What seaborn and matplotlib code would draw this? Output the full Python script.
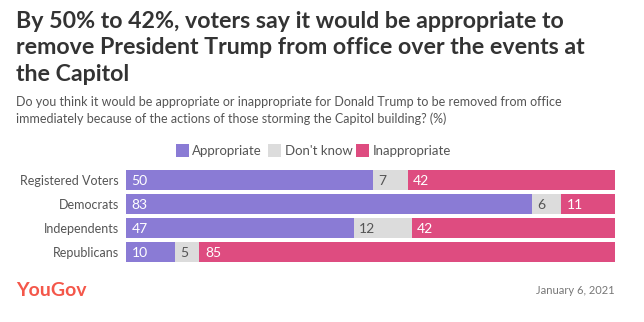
import matplotlib
matplotlib.use("Agg")
import matplotlib.pyplot as plt
import seaborn as sns
import pandas as pd
import numpy as np
from matplotlib.patches import Rectangle

sns.set_theme(style="white")
plt.rcParams['font.family'] = ['Lato', 'DejaVu Sans']

groups = ["Registered Voters", "Democrats", "Independents", "Republicans"]
appropriate = [50, 83, 47, 10]
dont_know = [7, 6, 12, 5]
inappropriate = [42, 11, 42, 85]
series_names = ["Appropriate", "Don't know", "Inappropriate"]
colors = ["#8a7bd5", "#dcdcdc", "#de4c80"]
label_colors = ["white", "#555555", "white"]

title = "By 50% to 42%, voters say it would be appropriate to\nremove President Trump from office over the events at\nthe Capitol"
subtitle = ("Do you think it would be appropriate or inappropriate for Donald Trump to be removed from office\n"
            "immediately because of the actions of those storming the Capitol building? (%)")
date_text = "January 6, 2021"

W, H = 644, 322
fig = plt.figure(figsize=(W / 100, H / 100), dpi=100)
fig.patch.set_facecolor("white")

ax = fig.add_axes([126 / W, 1 - 264 / H, (615 - 126) / W, 96 / H])

vals = np.array([appropriate, dont_know, inappropriate], dtype=float)
tot = vals.sum(axis=0)
norm = vals / tot * 100
cum = np.cumsum(norm, axis=0)

df = pd.DataFrame({"group": groups})
for i in range(2, -1, -1):
    df["v"] = cum[i]
    sns.barplot(data=df, y="group", x="v", orient="h", color=colors[i],
                saturation=1, width=20 / 24, ax=ax, edgecolor="none", linewidth=0)

for i in range(3):
    for j in range(len(groups)):
        left = cum[i][j] - norm[i][j]
        ax.annotate(str(int(vals[i][j])), xy=(left, j), xytext=(4, -0.5),
                    textcoords="offset points", ha="left", va="center",
                    fontsize=10, color=label_colors[i])

ax.set_xlim(0, 100)
ax.set_ylim(3.5, -0.5)
ax.set_xlabel("")
ax.set_ylabel("")
ax.set_xticks([])
ax.tick_params(axis="y", length=0, pad=5, labelsize=9, labelcolor="#555555")
for s in ax.spines.values():
    s.set_visible(False)

# Title and subtitle
fig.text(16 / W, 1 - 11 / H, title, ha="left", va="top", fontsize=16.7,
         fontweight="bold", color="#333333", linespacing=1.32)
fig.text(16 / W, 1 - 96 / H, subtitle, ha="left", va="top", fontsize=9,
         color="#555555", linespacing=1.45)

# Legend
legend_items = [(176, 192), (268, 285), (356, 373)]
for (sx, tx), name, c in zip(legend_items, series_names, colors):
    fig.patches.append(Rectangle((sx / W, 1 - 157 / H), 13 / W, 13 / H,
                                 transform=fig.transFigure, facecolor=c,
                                 edgecolor="none"))
    fig.text(tx / W, 1 - 150.5 / H, name, ha="left", va="center",
             fontsize=9.5, color="#555555")

# Footer
fig.text(16 / W, 1 - 290 / H, "YouGov", ha="left", va="center", fontsize=14,
         fontweight="bold", color="#f4574a")
fig.text(615 / W, 1 - 290 / H, date_text, ha="right", va="center",
         fontsize=8, color="#777777")

fig.savefig("out.png", dpi=100, facecolor="white")
